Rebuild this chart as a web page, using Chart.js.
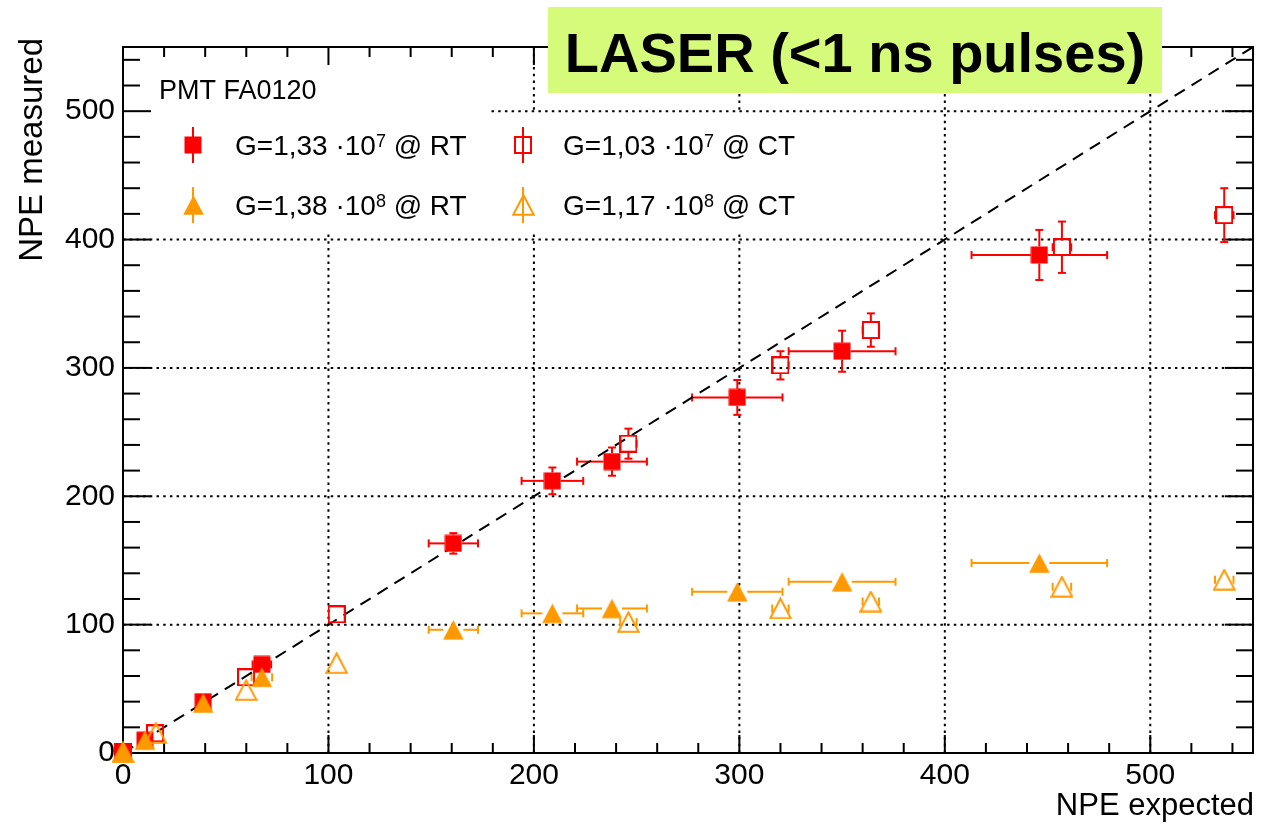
<!DOCTYPE html>
<html>
<head>
<meta charset="utf-8">
<title>NPE measured vs NPE expected</title>
<script src="https://cdn.jsdelivr.net/npm/chart.js@4.4.1/dist/chart.umd.min.js"></script>
<style>
  html, body { margin: 0; padding: 0; background: #fff; }
  canvas { display: block; }
</style>
</head>
<body>
<canvas id="npeChart" width="1268" height="826"></canvas>
<script>
// values (NPE expected / NPE measured)
const rtLowGainX = [0, 10.7, 39, 67.6, 160.8, 209, 238, 299, 350, 446];
const rtLowGainY = [0.5, 10, 40, 69, 163.3, 212, 227, 277, 313, 388];
const rtLowGainXErr = [0, 0, 0, 4.5, 12, 15, 17, 22, 26, 33];
const rtLowGainYErr = [0, 0, 0, 0, 8, 10.4, 11, 13.6, 16, 19.5];

const ctLowGainX = [0, 15.6, 59.9, 104, 246, 320, 364, 457, 536];
const ctLowGainY = [0.5, 15.3, 59, 108, 241, 302, 329.5, 394, 419];
const ctLowGainXErr = [0, 0, 0, 0, 4, 4, 4, 4.5, 4.5];
const ctLowGainYErr = [0, 0, 0, 0, 11.7, 11, 13, 20, 21];

const rtHighGainX = [0, 10.7, 39, 67.6, 160.8, 209, 238, 299, 350, 446];
const rtHighGainY = [0.5, 10, 39, 59, 96, 108.8, 112.6, 125.6, 133.4, 148];
const rtHighGainXErr = [0, 0, 0, 5, 12, 15, 17, 22, 26, 33];

const ctHighGainX = [0, 16, 59.9, 104, 246, 320, 364, 457, 536];
const ctHighGainY = [0.5, 15.5, 49, 70, 102, 112.6, 118, 129.5, 135];
const ctHighGainXErr = [0, 0, 0, 0, 4, 4, 4, 4.5, 4.5];

const diagonalX = [0, 550];
const diagonalY = [0, 550];

const xTicks = [0, 100, 200, 300, 400, 500];
const yTicks = [0, 100, 200, 300, 400, 500];
const gridValues = [100, 200, 300, 400, 500];

const RED = "#ff0000";
const ORANGE = "#ff9900";
const FONT = "'Liberation Sans', Arial, Helvetica, sans-serif";

function makeMarker(shape, color, filled) {
  const c = document.createElement("canvas");
  const g = c.getContext("2d");
  if (shape === "square") {
    c.width = 18; c.height = 18;
    g.fillStyle = color; g.strokeStyle = color; g.lineWidth = 2;
    if (filled) g.fillRect(0.5, 0.5, 17, 17);
    else g.strokeRect(1, 1, 16, 16);
  } else {
    c.width = 23; c.height = 22;
    g.fillStyle = color; g.strokeStyle = color; g.lineWidth = 2;
    g.beginPath();
    g.moveTo(11.5, 1.2);
    g.lineTo(21.8, 20.8);
    g.lineTo(1.2, 20.8);
    g.closePath();
    if (filled) g.fill(); else g.stroke();
  }
  return c;
}

const markers = {
  rtLow: makeMarker("square", RED, true),
  ctLow: makeMarker("square", RED, false),
  rtHigh: makeMarker("triangle", ORANGE, true),
  ctHigh: makeMarker("triangle", ORANGE, false),
};

function toPoints(xs, ys) {
  return xs.map((v, i) => ({ x: v, y: ys[i] }));
}

const errorSets = [
  { xs: rtLowGainX, ys: rtLowGainY, xe: rtLowGainXErr, ye: rtLowGainYErr, color: RED, gap: 8.5 },
  { xs: ctLowGainX, ys: ctLowGainY, xe: ctLowGainXErr, ye: ctLowGainYErr, color: RED, gap: 8.5 },
  { xs: rtHighGainX, ys: rtHighGainY, xe: rtHighGainXErr, ye: null, color: ORANGE, gap: 10 },
  { xs: ctHighGainX, ys: ctHighGainY, xe: ctHighGainXErr, ye: null, color: ORANGE, gap: 10 },
];

function seg(ctx, x1, y1, x2, y2) {
  ctx.beginPath();
  ctx.moveTo(x1, y1);
  ctx.lineTo(x2, y2);
  ctx.stroke();
}

// ROOT-like frame: dotted grid, inward ticks on all sides, error bars
const rootFrame = {
  id: "rootFrame",
  beforeDatasetsDraw(chart) {
    const { ctx, chartArea: a, scales } = chart;
    const xs = scales.x, ys = scales.y;
    ctx.save();

    // dotted grid
    ctx.strokeStyle = "#000";
    ctx.lineWidth = 2;
    ctx.setLineDash([2.5, 4.2]);
    gridValues.forEach((v) => {
      const px = xs.getPixelForValue(v);
      seg(ctx, px, a.bottom, px, a.top);
      const py = ys.getPixelForValue(v);
      seg(ctx, a.left, py, a.right, py);
    });
    ctx.setLineDash([]);

    // white panes behind the text box and the legend
    ctx.fillStyle = "#fff";
    let l = xs.getPixelForValue(0), r = xs.getPixelForValue(178);
    let t = ys.getPixelForValue(550), b = ys.getPixelForValue(497);
    ctx.fillRect(l, t, r - l, b - t);
    r = xs.getPixelForValue(330);
    t = ys.getPixelForValue(498); b = ys.getPixelForValue(405.5);
    ctx.fillRect(l, t, r - l, b - t);

    // frame
    ctx.strokeStyle = "#000";
    ctx.lineWidth = 2;
    ctx.strokeRect(a.left, a.top, a.right - a.left, a.bottom - a.top);

    // ticks
    ctx.lineWidth = 2;
    for (let v = 0; v <= 550; v += 20) {
      const major = v % 100 === 0;
      const px = xs.getPixelForValue(v);
      const lx = major ? 18 : 10;
      seg(ctx, px, a.bottom, px, a.bottom - lx);
      seg(ctx, px, a.top, px, a.top + lx);
      const py = ys.getPixelForValue(v);
      const ly = major ? 28 : 17;
      seg(ctx, a.left, py, a.left + ly, py);
      seg(ctx, a.right, py, a.right - ly, py);
    }

    // error bars
    ctx.lineWidth = 2;
    errorSets.forEach((s) => {
      ctx.strokeStyle = s.color;
      s.xs.forEach((xv, i) => {
        const cx = xs.getPixelForValue(xv);
        const cy = ys.getPixelForValue(s.ys[i]);
        const ex = s.xe ? s.xe[i] : 0;
        const ey = s.ye ? s.ye[i] : 0;
        if (ex > 0) {
          const dx = xs.getPixelForValue(xv + ex) - cx;
          [-1, 1].forEach((k) => {
            const end = cx + k * dx;
            if (dx > s.gap) seg(ctx, cx + k * s.gap, cy, end, cy);
            seg(ctx, end, cy - 4, end, cy + 4);
          });
        }
        if (ey > 0) {
          const dy = cy - ys.getPixelForValue(s.ys[i] + ey);
          [-1, 1].forEach((k) => {
            const end = cy + k * dy;
            if (dy > s.gap) seg(ctx, cx, cy + k * s.gap, cx, end);
            seg(ctx, cx - 4, end, cx + 4, end);
          });
        }
      });
    });
    ctx.restore();
  },

  afterDraw(chart) {
    const { ctx, chartArea: a } = chart;
    ctx.save();
    ctx.fillStyle = "#000";

    // axis titles
    ctx.font = `31px ${FONT}`;
    ctx.textAlign = "right";
    ctx.textBaseline = "alphabetic";
    ctx.fillText("NPE expected", a.right + 1, 815);

    ctx.save();
    ctx.translate(42, 38);
    ctx.rotate(-Math.PI / 2);
    ctx.font = `33px ${FONT}`;
    ctx.textAlign = "right";
    ctx.fillText("NPE measured", 0, 0);
    ctx.restore();

    // text box
    ctx.textAlign = "left";
    ctx.font = `27px ${FONT}`;
    ctx.fillText("PMT FA0120", 159, 99);

    // legend
    const entries = [
      { m: markers.rtLow, mx: 193, tx: 235, y: 145, base: "G=1,33 \u00b710", sup: "7", tail: " @ RT" },
      { m: markers.rtHigh, mx: 193, tx: 235, y: 205, base: "G=1,38 \u00b710", sup: "8", tail: " @ RT" },
      { m: markers.ctLow, mx: 523, tx: 563, y: 145, base: "G=1,03 \u00b710", sup: "7", tail: " @ CT" },
      { m: markers.ctHigh, mx: 523, tx: 563, y: 205, base: "G=1,17 \u00b710", sup: "8", tail: " @ CT" },
    ];
    entries.forEach((e, i) => {
      const color = i % 2 === 0 ? RED : ORANGE;
      ctx.strokeStyle = color;
      ctx.lineWidth = 2;
      seg(ctx, e.mx, e.y - 18, e.mx, e.y + 18);
      ctx.drawImage(e.m, Math.round(e.mx - e.m.width / 2), Math.round(e.y - e.m.height / 2));
      ctx.fillStyle = "#000";
      ctx.font = `28px ${FONT}`;
      let x = e.tx;
      const baseY = e.y + 10;
      ctx.fillText(e.base, x, baseY);
      x += ctx.measureText(e.base).width;
      ctx.font = `18px ${FONT}`;
      ctx.fillText(e.sup, x, baseY - 8);
      x += ctx.measureText(e.sup).width;
      ctx.font = `28px ${FONT}`;
      ctx.fillText(e.tail, x, baseY);
    });

    // title box
    ctx.fillStyle = "#d6fb7b";
    ctx.fillRect(548, 7, 614, 86);
    ctx.fillStyle = "#000";
    ctx.font = `bold 56px ${FONT}`;
    ctx.textAlign = "center";
    ctx.fillText("LASER (<1 ns pulses)", 855, 72);
    ctx.restore();
  },
};

const ctx = document.getElementById("npeChart").getContext("2d");

new Chart(ctx, {
  type: "scatter",
  data: {
    datasets: [
      {
        label: "y = x",
        type: "line",
        data: toPoints(diagonalX, diagonalY),
        borderColor: "#000",
        borderWidth: 2,
        borderDash: [12, 8],
        pointRadius: 0,
        fill: false,
        order: 5,
      },
      {
        label: "G=1,33e7 @ RT",
        data: toPoints(rtLowGainX, rtLowGainY),
        pointStyle: markers.rtLow,
        order: 4,
        clip: false,
      },
      {
        label: "G=1,03e7 @ CT",
        data: toPoints(ctLowGainX, ctLowGainY),
        pointStyle: markers.ctLow,
        order: 3,
        clip: false,
      },
      {
        label: "G=1,17e8 @ CT",
        data: toPoints(ctHighGainX, ctHighGainY),
        pointStyle: markers.ctHigh,
        order: 2,
        clip: false,
      },
      {
        label: "G=1,38e8 @ RT",
        data: toPoints(rtHighGainX, rtHighGainY),
        pointStyle: markers.rtHigh,
        order: 1,
        clip: false,
      },
    ],
  },
  options: {
    responsive: false,
    animation: false,
    layout: { padding: { top: 47, right: 15, left: 0, bottom: 0 } },
    plugins: {
      legend: { display: false },
      tooltip: { enabled: false },
    },
    scales: {
      x: {
        type: "linear",
        min: 0,
        max: 550,
        afterBuildTicks: (scale) => {
          scale.ticks = xTicks.map((v) => ({ value: v }));
        },
        afterFit: (scale) => {
          scale.height = 73;
        },
        grid: { display: false, drawTicks: false },
        border: { display: false },
        ticks: {
          color: "#000",
          padding: 5,
          font: { family: FONT, size: 30 },
          maxRotation: 0,
        },
      },
      y: {
        type: "linear",
        min: 0,
        max: 550,
        afterBuildTicks: (scale) => {
          scale.ticks = yTicks.map((v) => ({ value: v }));
        },
        afterFit: (scale) => {
          scale.width = 123;
        },
        grid: { display: false, drawTicks: false },
        border: { display: false },
        ticks: {
          color: "#000",
          padding: 8,
          font: { family: FONT, size: 30 },
        },
      },
    },
  },
  plugins: [rootFrame],
});
</script>
</body>
</html>
